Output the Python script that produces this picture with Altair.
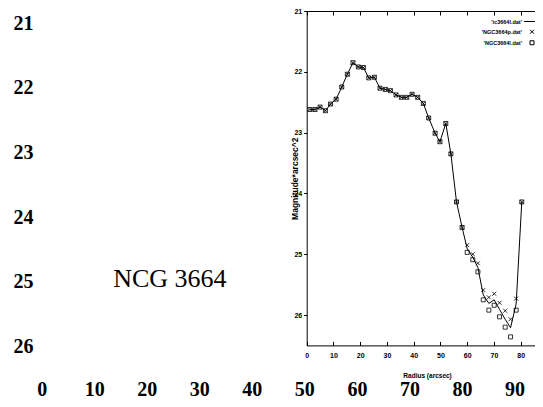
import altair as alt
import pandas as pd

# ---- outer (large) tick labels and annotation ----
outer_x_ticks = [0, 10, 20, 30, 40, 50, 60, 70, 80, 90]
outer_y_ticks = [21, 22, 23, 24, 25, 26]
note_text = ["NCG 3664"]
note_x = [24.4]
note_y = [24.95]

# ---- inner surface-brightness profile ----
radius = [1.2, 3.1, 5.0, 7.0, 8.9, 11.0, 13.1, 15.2, 17.3, 19.3,
          21.2, 23.2, 25.3, 27.4, 29.4, 31.3, 33.4, 35.4, 37.4, 39.4,
          41.5, 43.6, 45.6, 48.0, 49.8, 52.0, 53.9, 56.0, 58.1, 60.0,
          62.1, 64.0, 66.0, 68.1, 70.1, 72.1, 74.2, 76.2, 78.3, 80.4]
mag_p = [22.62, 22.62, 22.58, 22.64, 22.53, 22.45, 22.25, 22.04, 21.85, 21.92,
         21.93, 22.10, 22.09, 22.27, 22.29, 22.31, 22.38, 22.42, 22.42, 22.37,
         22.42, 22.52, 22.76, 23.01, 23.15, 22.85, 23.35, 24.14, 24.56, 24.85,
         25.00, 25.15, 25.59, 25.71, 25.65, 25.80, 25.93, 26.07, 25.73, 24.14]
mag_l = [22.62, 22.62, 22.58, 22.64, 22.53, 22.45, 22.25, 22.04, 21.85, 21.92,
         21.93, 22.10, 22.09, 22.27, 22.29, 22.31, 22.38, 22.42, 22.42, 22.37,
         22.42, 22.52, 22.76, 23.01, 23.15, 22.85, 23.35, 24.14, 24.56, 24.97,
         25.09, 25.29, 25.75, 25.92, 25.84, 26.03, 26.20, 26.36, 25.92, 24.14]
mag_line = [22.62, 22.62, 22.58, 22.64, 22.53, 22.45, 22.25, 22.04, 21.85, 21.92,
            21.93, 22.10, 22.09, 22.27, 22.29, 22.31, 22.38, 22.42, 22.42, 22.37,
            22.42, 22.52, 22.76, 23.01, 23.15, 22.85, 23.35, 24.14, 24.56, 24.91,
            25.05, 25.22, 25.67, 25.81, 25.75, 25.91, 26.07, 26.21, 25.82, 24.14]
series_names = ["'ic3664l.dat'", "'NGC3664p.dat'", "'NGC3664l.dat'"]
inner_x_ticks = [0, 10, 20, 30, 40, 50, 60, 70, 80]
inner_y_ticks = [21, 22, 23, 24, 25, 26]

W, H = 527, 391
ix_range = [298.7, 539.45]
iy_range = [3, 337.4]
small_font = "Liberation Sans Narrow, Liberation Sans"
cross_path = "M-1,-1L1,1M1,-1L-1,1"

line_df = pd.DataFrame({"r": radius, "m": mag_line, "series": series_names[0]})
pts_df = pd.concat([
    pd.DataFrame({"r": radius, "m": mag_p, "series": series_names[1]}),
    pd.DataFrame({"r": radius, "m": mag_l, "series": series_names[2]}),
], ignore_index=True)
tick_df = pd.DataFrame({"r": inner_x_ticks})
note_df = pd.DataFrame({"nx": note_x, "ny": note_y, "label": note_text})

# outer layer
outer = alt.Chart(note_df).mark_text(
    font="Liberation Serif", fontSize=26, color="black"
).encode(
    x=alt.X("nx:Q", title=None,
            scale=alt.Scale(domain=[0, 90], range=[33.7, 506.5], nice=False, zero=False),
            axis=alt.Axis(orient="bottom", offset=-20, values=outer_x_ticks,
                          domain=False, ticks=False, tickSize=0, grid=False,
                          labelPadding=0, labelFont="Liberation Serif", labelFontSize=20,
                          labelFontWeight="bold", labelColor="black",
                          labelFlush=False, labelOverlap=False)),
    y=alt.Y("ny:Q", title=None,
            scale=alt.Scale(domain=[21, 26], range=[15, 338.7], nice=False, zero=False),
            axis=alt.Axis(orient="left", offset=-25, values=outer_y_ticks,
                          domain=False, ticks=False, tickSize=0, grid=False,
                          labelPadding=0, labelFont="Liberation Serif", labelFontSize=20,
                          labelFontWeight="bold", labelColor="black",
                          labelFlush=False, labelOverlap=False)),
    text="label:N",
)

ix_scale = alt.Scale(domain=[0, 90], range=ix_range, nice=False, zero=False)
iy_scale = alt.Scale(domain=[21, 26.5], range=iy_range, nice=False, zero=False)

inner_x = alt.X("r:Q", scale=ix_scale,
                axis=alt.Axis(orient="bottom", offset=iy_range[1] - H, values=inner_x_ticks,
                              ticks=False, tickSize=0, labelPadding=6, domain=True,
                              domainColor="black", domainWidth=1, grid=False,
                              labelFont=small_font, labelFontSize=7, labelFontWeight="bold",
                              labelColor="black", labelFlush=False, labelOverlap=False,
                              title="Radius (arcsec)", titleFont=small_font, titleFontSize=6.5,
                              titleFontWeight="bold", titleColor="black", titleY=26.8))
inner_y = alt.Y("m:Q", scale=iy_scale,
                axis=alt.Axis(orient="left", offset=-ix_range[0], values=inner_y_ticks,
                              ticks=True, tickSize=3, tickColor="black", labelPadding=2,
                              domain=True, domainColor="black", domainWidth=1, grid=False,
                              labelFont=small_font, labelFontSize=7, labelFontWeight="bold",
                              labelColor="black", labelOverlap=False,
                              title="Magnitude*arcsec^2", titleFont="Liberation Sans",
                              titleFontSize=8.5, titleFontWeight="bold", titleColor="black",
                              titleX=-7))

leg = alt.Legend(orient="none", legendX=515.5, legendY=5, title=None,
                 labelAlign="right", labelOffset={"expr": "-18.5"}, symbolOffset=0,
                 labelFont=small_font,
                 labelFontSize=5.5, labelFontWeight="bold", labelColor="black",
                 symbolStrokeColor="black", symbolStrokeWidth=1, rowPadding=2)

line = alt.Chart(line_df).mark_line(color="black", strokeWidth=1).encode(x=inner_x, y=inner_y)
pts = alt.Chart(pts_df).mark_point(filled=False, color="black", strokeWidth=0.8, opacity=1).encode(
    x=inner_x, y=inner_y,
    shape=alt.Shape("series:N", scale=alt.Scale(domain=series_names,
                                                range=["stroke", cross_path, "square"]), legend=leg),
    size=alt.Size("series:N", scale=alt.Scale(type="ordinal", domain=series_names,
                                              range=[256, 16, 16]), legend=leg),
)
inner = alt.layer(line, pts)

top_ticks = alt.Chart(tick_df).mark_point(opacity=0).encode(
    x=alt.X("r:Q", title=None, scale=ix_scale,
            axis=alt.Axis(orient="bottom", offset=iy_range[0] - H, values=inner_x_ticks,
                          labels=False, ticks=True, tickSize=4, tickColor="black",
                          domain=True, domainColor="black", domainWidth=1, grid=False))
)
bottom_ticks = alt.Chart(tick_df).mark_point(opacity=0).encode(
    x=alt.X("r:Q", title=None, scale=ix_scale,
            axis=alt.Axis(orient="top", offset=-iy_range[1], values=inner_x_ticks,
                          labels=False, ticks=True, tickSize=4, tickColor="black",
                          domain=False, grid=False))
)

chart = alt.layer(outer, inner, top_ticks, bottom_ticks).resolve_scale(
    x="independent", y="independent"
).properties(
    width=W, height=H, autosize=alt.AutoSizeParams(type="none"), padding=0,
    background="white"
).configure_view(strokeWidth=0)

chart.save("out.html", embed_options={"renderer": "svg", "actions": False})
